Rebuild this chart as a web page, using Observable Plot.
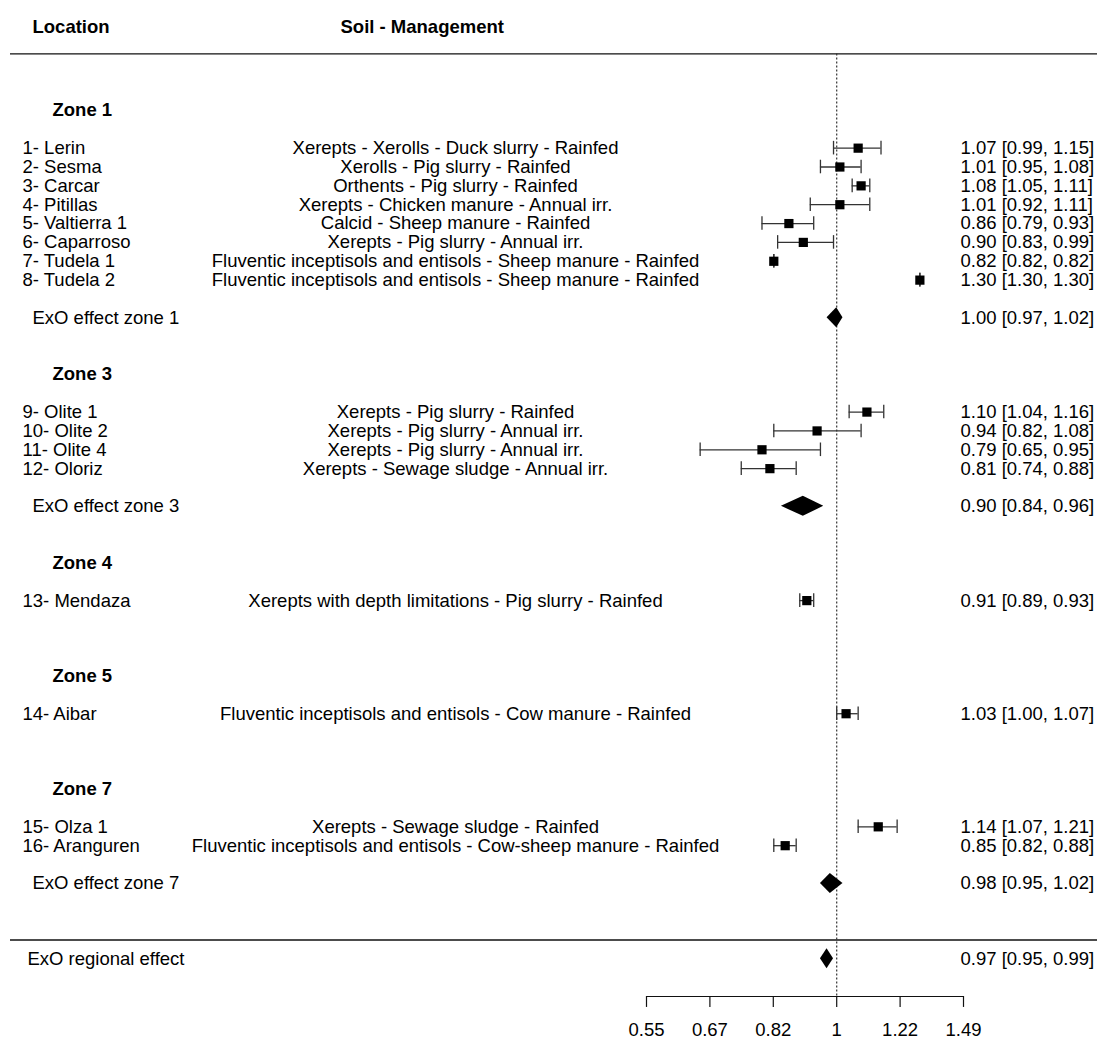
<!DOCTYPE html>
<html>
<head>
<meta charset="utf-8">
<script src="https://cdn.jsdelivr.net/npm/d3@7"></script>
<script src="https://cdn.jsdelivr.net/npm/@observablehq/plot@0.6"></script>
<style>
  html, body { margin: 0; padding: 0; background: #fff; }
  #chart svg { display: block; }
</style>
</head>
<body>
<div id="chart"></div>
<script>
// ---------- data ----------
const zoneNames = ["Zone 1", "Zone 3", "Zone 4", "Zone 5", "Zone 7"];

const siteZone = ["Zone 1","Zone 1","Zone 1","Zone 1","Zone 1","Zone 1","Zone 1","Zone 1",
                  "Zone 3","Zone 3","Zone 3","Zone 3",
                  "Zone 4",
                  "Zone 5",
                  "Zone 7","Zone 7"];
const locations = ["1- Lerin","2- Sesma","3- Carcar","4- Pitillas","5- Valtierra 1","6- Caparroso","7- Tudela 1","8- Tudela 2",
                   "9- Olite 1","10- Olite 2","11- Olite 4","12- Oloriz",
                   "13- Mendaza",
                   "14- Aibar",
                   "15- Olza 1","16- Aranguren"];
const soilManagement = [
  "Xerepts - Xerolls - Duck slurry - Rainfed",
  "Xerolls - Pig slurry - Rainfed",
  "Orthents - Pig slurry - Rainfed",
  "Xerepts - Chicken manure - Annual irr.",
  "Calcid - Sheep manure - Rainfed",
  "Xerepts - Pig slurry - Annual irr.",
  "Fluventic inceptisols and entisols - Sheep manure - Rainfed",
  "Fluventic inceptisols and entisols - Sheep manure - Rainfed",
  "Xerepts - Pig slurry - Rainfed",
  "Xerepts - Pig slurry - Annual irr.",
  "Xerepts - Pig slurry - Annual irr.",
  "Xerepts - Sewage sludge - Annual irr.",
  "Xerepts with depth limitations - Pig slurry - Rainfed",
  "Fluventic inceptisols and entisols - Cow manure - Rainfed",
  "Xerepts - Sewage sludge - Rainfed",
  "Fluventic inceptisols and entisols - Cow-sheep manure - Rainfed"
];
const estimate = [1.07, 1.01, 1.08, 1.01, 0.86, 0.90, 0.82, 1.30, 1.10, 0.94, 0.79, 0.81, 0.91, 1.03, 1.14, 0.85];
const lower    = [0.99, 0.95, 1.05, 0.92, 0.79, 0.83, 0.82, 1.30, 1.04, 0.82, 0.65, 0.74, 0.89, 1.00, 1.07, 0.82];
const upper    = [1.15, 1.08, 1.11, 1.11, 0.93, 0.99, 0.82, 1.30, 1.16, 1.08, 0.95, 0.88, 0.93, 1.07, 1.21, 0.88];

const summaryZone  = ["Zone 1", "Zone 3", "Zone 7"];
const summaryLabel = ["ExO effect zone 1", "ExO effect zone 3", "ExO effect zone 7"];
const summaryEst   = [1.00, 0.90, 0.98];
const summaryLower = [0.97, 0.84, 0.95];
const summaryUpper = [1.02, 0.96, 1.02];

const regionalLabel = "ExO regional effect";
const regionalEst = 0.97, regionalLower = 0.95, regionalUpper = 0.99;

const tickValues = [0.5488, 0.6703, 0.8187, 1, 1.2214, 1.4918];
const tickLabels = ["0.55", "0.67", "0.82", "1", "1.22", "1.49"];

const headerLocation = "Location";
const headerSoil = "Soil - Management";

// ---------- layout (row units) ----------
const fmt = v => v.toFixed(2);
const ciText = (e, l, u) => `${fmt(e)} [${fmt(l)}, ${fmt(u)}]`;

const zoneRows = [], siteRows = [], summaryRows = [];
let row = 0;
for (const z of zoneNames) {
  zoneRows.push({label: z, pos: row});
  row += 2;
  siteZone.forEach((sz, i) => {
    if (sz === z) {
      siteRows.push({loc: locations[i], soil: soilManagement[i], est: estimate[i], lo: lower[i], up: upper[i],
                     ci: ciText(estimate[i], lower[i], upper[i]), pos: row});
      row += 1;
    }
  });
  const si = summaryZone.indexOf(z);
  if (si >= 0) {
    row += 1;
    summaryRows.push({label: summaryLabel[si], est: summaryEst[si], lo: summaryLower[si], up: summaryUpper[si],
                      ci: ciText(summaryEst[si], summaryLower[si], summaryUpper[si]), pos: row, indent: 32});
    row += 3;
  } else {
    row += 3;
  }
}
const bottomLinePos = row;
const regionalPos = row + 1;
summaryRows.push({label: regionalLabel, est: regionalEst, lo: regionalLower, up: regionalUpper,
                  ci: ciText(regionalEst, regionalLower, regionalUpper), pos: regionalPos, indent: 27});
const axisPos = regionalPos + 2;
const topLinePos = -3;
const headerPos = -4.4;

const diamondH = 0.53;
const diamondPts = summaryRows.flatMap((d, i) => [
  {id: i, y: d.pos - diamondH, x1: d.est, x2: d.est},
  {id: i, y: d.pos, x1: d.lo, x2: d.up},
  {id: i, y: d.pos + diamondH, x1: d.est, x2: d.est}
]);

const capH = 0.36;
const tickRows = tickValues.map((v, i) => ({v, label: tickLabels[i]}));

const FS = 18.5;

const chart = Plot.plot({
  width: 1097,
  height: 1039,
  marginTop: 0, marginLeft: 0, marginRight: 0, marginBottom: 43,
  style: {fontFamily: "'Liberation Sans', Arial, sans-serif", fontSize: FS + "px", color: "#000", background: "#fff"},
  x: {type: "log", domain: [tickValues[0], tickValues[tickValues.length - 1]], range: [646, 963], axis: null},
  y: {domain: [headerPos, axisPos], range: [27, 996], axis: null},
  marks: [
    // header
    Plot.text([headerLocation], {frameAnchor: "left", y: () => headerPos, text: d => d, dx: 32, textAnchor: "start", fontWeight: "bold", fontSize: FS, fill: "#000"}),
    Plot.text([headerSoil], {frameAnchor: "left", y: () => headerPos, text: d => d, dx: 340, textAnchor: "start", fontWeight: "bold", fontSize: FS, fill: "#000"}),
    // separator lines
    Plot.ruleY([topLinePos, bottomLinePos], {insetLeft: 10, stroke: "#111", strokeWidth: 1.4}),
    // reference line at 1
    Plot.ruleX([1], {y1: topLinePos, y2: axisPos, stroke: "#333", strokeWidth: 1.2, strokeDasharray: "2,2"}),
    // zone headers
    Plot.text(zoneRows, {frameAnchor: "left", y: "pos", text: "label", dx: 52, textAnchor: "start", fontWeight: "bold", fontSize: FS, fill: "#000"}),
    // site labels
    Plot.text(siteRows, {frameAnchor: "left", y: "pos", text: "loc", dx: 22, textAnchor: "start", fontSize: FS, fill: "#000"}),
    Plot.text(siteRows, {frameAnchor: "left", y: "pos", text: "soil", dx: 455, textAnchor: "middle", fontSize: FS, fill: "#000"}),
    Plot.text(siteRows, {frameAnchor: "left", y: "pos", text: "ci", dx: 960, textAnchor: "start", fontSize: FS, fill: "#000"}),
    // summary labels (each with its own indent)
    ...summaryRows.map(d => Plot.text([d], {frameAnchor: "left", y: "pos", text: "label", dx: d.indent, textAnchor: "start", fontSize: FS, fill: "#000"})),
    Plot.text(summaryRows, {frameAnchor: "left", y: "pos", text: "ci", dx: 960, textAnchor: "start", fontSize: FS, fill: "#000"}),
    // whiskers
    Plot.ruleY(siteRows, {y: "pos", x1: "lo", x2: "up", stroke: "#333", strokeWidth: 1.3}),
    Plot.ruleX(siteRows, {x: "lo", y1: d => d.pos - capH, y2: d => d.pos + capH, stroke: "#333", strokeWidth: 1.3}),
    Plot.ruleX(siteRows, {x: "up", y1: d => d.pos - capH, y2: d => d.pos + capH, stroke: "#333", strokeWidth: 1.3}),
    // squares
    Plot.dot(siteRows, {x: "est", y: "pos", symbol: "square", r: 5.2, fill: "#000", stroke: "none"}),
    // diamonds
    Plot.areaX(diamondPts, {y: "y", x1: "x1", x2: "x2", z: "id", fill: "#000", curve: "linear"}),
    // x axis
    Plot.ruleY([axisPos], {x1: tickValues[0], x2: tickValues[tickValues.length - 1], stroke: "#111", strokeWidth: 1.2}),
    Plot.ruleX(tickRows, {x: "v", y1: () => axisPos, y2: () => axisPos + 0.58, stroke: "#111", strokeWidth: 1.2}),
    Plot.text(tickRows, {x: "v", y: () => axisPos, text: "label", dy: 34, fontSize: FS, fill: "#000"})
  ]
});
document.getElementById("chart").appendChild(chart);
</script>
</body>
</html>
